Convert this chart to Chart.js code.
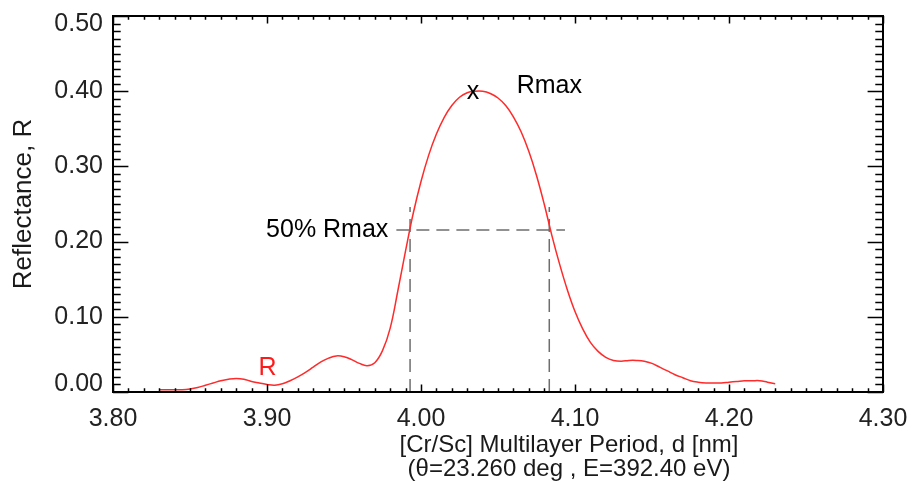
<!DOCTYPE html>
<html><head><meta charset="utf-8">
<script src="https://cdn.jsdelivr.net/npm/chart.js@4/dist/chart.umd.min.js"></script>
<style>html,body{margin:0;padding:0;background:#fff}#wrap{width:909px;height:486px}</style>
</head><body><div id="wrap"><canvas id="c" width="909" height="486"></canvas></div>
<script>
// ---- data ----
const periods = [3.830,3.835,3.840,3.845,3.850,3.855,3.860,3.865,3.870,3.875,3.880,3.885,3.890,3.895,3.900,3.905,3.910,3.915,3.920,3.925,3.930,3.935,3.940,3.945,3.950,3.955,3.960,3.965,3.970,3.975,3.980,3.985,3.990,3.995,4.000,4.005,4.010,4.015,4.020,4.025,4.030,4.035,4.040,4.045,4.050,4.055,4.060,4.065,4.070,4.075,4.080,4.085,4.090,4.095,4.100,4.105,4.110,4.115,4.120,4.125,4.130,4.135,4.140,4.145,4.150,4.155,4.160,4.165,4.170,4.175,4.180,4.185,4.190,4.195,4.200,4.205,4.210,4.215,4.220,4.225,4.230];
const reflectance = [0.003,0.003,0.003,0.003,0.004,0.006,0.009,0.012,0.015,0.017,0.018,0.017,0.014,0.012,0.010,0.009,0.011,0.015,0.020,0.026,0.033,0.040,0.045,0.048,0.047,0.043,0.038,0.035,0.039,0.055,0.085,0.135,0.188,0.238,0.280,0.315,0.343,0.365,0.381,0.392,0.398,0.400,0.400,0.397,0.391,0.381,0.366,0.346,0.320,0.288,0.250,0.208,0.170,0.136,0.107,0.084,0.066,0.054,0.046,0.042,0.041,0.042,0.042,0.041,0.038,0.033,0.028,0.023,0.019,0.015,0.013,0.012,0.012,0.012,0.013,0.014,0.015,0.015,0.015,0.013,0.011];
const rMax = 0.400;
const rMaxPeriod = 4.0338;
const halfLevel = 0.2154;
const halfLeft = 3.9929;
const halfRight = 4.0833;
const halfLineSpan = [3.984, 4.0935];
const guideTop = 0.246;
const xTicks = [3.80,3.90,4.00,4.10,4.20,4.30];
const yTicks = [0.00,0.10,0.20,0.30,0.40,0.50];
const xTitle = ['[Cr/Sc] Multilayer Period, d [nm]', '(\u03b8=23.260 deg , E=392.40 eV)'];
const yTitle = 'Reflectance, R';

const FONT = '"Liberation Sans", Arial, Helvetica, sans-serif';

const curve = periods.map((d,i)=>({x:d, y:reflectance[i]}));
const dashStyle = {borderColor:'#6e6e6e', borderWidth:1.5, borderDash:[13,7], pointRadius:0, fill:false, tension:0};

const framePlugin = {
  id:'frame',
  afterDraw(chart){
    const {ctx, chartArea:a, scales:{x,y}} = chart;
    ctx.save();
    ctx.strokeStyle = '#000';
    ctx.lineWidth = 1.5;
    ctx.beginPath();
    for (let i=0;i<=50;i++){
      const v = 3.8 + i*0.01;
      const px = Math.round(x.getPixelForValue(v))+0.5;
      const len = (i%10===0) ? 7.5 : 3.8;
      ctx.moveTo(px, a.bottom); ctx.lineTo(px, a.bottom-len);
      ctx.moveTo(px, a.top); ctx.lineTo(px, a.top+len);
    }
    for (let i=0;i<=50;i++){
      const v = i*0.01;
      const py = Math.round(y.getPixelForValue(v))+0.5;
      const len = (i%10===0) ? 15.4 : 7.7;
      ctx.moveTo(a.left, py); ctx.lineTo(a.left+len, py);
      ctx.moveTo(a.right, py); ctx.lineTo(a.right-len, py);
    }
    ctx.stroke();
    ctx.lineWidth = 2;
    ctx.strokeRect(a.left, a.top, a.right-a.left, a.bottom-a.top);

    // annotations
    ctx.textBaseline = 'alphabetic';
    ctx.font = '25px ' + FONT;
    ctx.fillStyle = '#000';
    ctx.textAlign = 'center';
    ctx.fillText('x', x.getPixelForValue(rMaxPeriod), y.getPixelForValue(0.389));
    ctx.textAlign = 'left';
    ctx.fillText('Rmax', x.getPixelForValue(4.0621), y.getPixelForValue(0.3976));
    ctx.textAlign = 'right';
    ctx.fillText('50% Rmax', x.getPixelForValue(3.9788), y.getPixelForValue(0.2057));
    ctx.fillStyle = '#ff1a1a';
    ctx.textAlign = 'left';
    ctx.fillText('R', x.getPixelForValue(3.8944), y.getPixelForValue(0.0226));

    // x axis title (two lines)
    ctx.fillStyle = '#1a1a1a';
    ctx.textAlign = 'center';
    ctx.font = '24px ' + FONT;
    const cx = a.left + 456;
    ctx.fillText(xTitle[0], cx, a.bottom + 60);
    ctx.fillText(xTitle[1], cx, a.bottom + 84);
    ctx.restore();
  }
};

new Chart(document.getElementById('c'), {
  type:'line',
  data:{datasets:[
    {data:curve, borderColor:'#ff2a2a', borderWidth:1.5, pointRadius:0, fill:false, tension:0.4},
    Object.assign({data:[{x:halfLineSpan[0],y:halfLevel},{x:halfLineSpan[1],y:halfLevel}]}, dashStyle),
    Object.assign({data:[{x:halfLeft,y:0},{x:halfLeft,y:guideTop}]}, dashStyle),
    Object.assign({data:[{x:halfRight,y:0},{x:halfRight,y:guideTop}]}, dashStyle)
  ]},
  options:{
    responsive:false, animation:false, devicePixelRatio:1,
    layout:{padding:{top:16,right:26,bottom:0,left:0}},
    plugins:{legend:{display:false}, tooltip:{enabled:false}},
    scales:{
      x:{type:'linear', min:3.8, max:4.3,
        afterBuildTicks(s){ s.ticks = xTicks.map(v=>({value:v})); },
        ticks:{callback:v=>Number(v).toFixed(2), font:{family:FONT,size:25}, color:'#222', padding:12, maxRotation:0, autoSkip:false},
        grid:{display:false, drawTicks:false}, border:{display:false},
        afterFit(s){ s.height = 94; s.paddingLeft = 0; s.paddingRight = 0; }
      },
      y:{type:'linear', min:0, max:0.5,
        afterBuildTicks(s){ s.ticks = yTicks.map(v=>({value:v})); },
        ticks:{callback:v=>{const t=Number(v).toFixed(2); if (Math.abs(v-0.5)<1e-9) return ['',t]; if (Math.abs(v)<1e-9) return [t,'']; return t;},
          font:{family:FONT,size:25,lineHeight:'16px'}, color:'#222', padding:10, autoSkip:false},
        grid:{display:false, drawTicks:false}, border:{display:false},
        title:{display:true, text:yTitle, font:{family:FONT,size:26}, color:'#1a1a1a', padding:{top:8,bottom:0}},
        afterFit(s){ s.width = 113; s.paddingTop = 0; s.paddingBottom = 0; }
      }
    }
  },
  plugins:[framePlugin]
});
</script>
</body></html>
